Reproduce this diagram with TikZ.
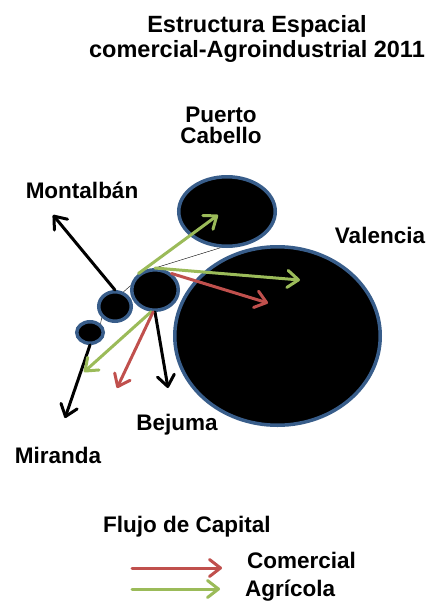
\documentclass[tikz,border=0pt]{standalone}
\usepackage{fontspec}
\setmainfont{Liberation Sans}
\usetikzlibrary{arrows.meta}
\usetikzlibrary{shapes.geometric}

\definecolor{rimblue}{RGB}{56,93,138}
\definecolor{flowred}{RGB}{192,80,77}
\definecolor{flowgreen}{RGB}{155,187,89}

\begin{document}
\begin{tikzpicture}[x=1pt,y=-1pt]
            \tikzstyle{city}=[draw=rimblue,fill=black,ellipse,line width=3.5pt,inner sep=0pt]
            \tikzstyle{place}=[font=\bfseries\fontsize{22.5}{21}\selectfont,anchor=base,align=center,inner sep=0pt]
            \tikzstyle{flow}=[line width=3pt,line cap=round,-{Straight Barb[length=11pt,width=17pt,round]}]
            \useasboundingbox (0,0) rectangle (431,608);

            % titulo
            \node[place,font=\bfseries\fontsize{23.5}{25}\selectfont] (title) at (257,57)
                {Estructura Espacial\\comercial-Agroindustrial 2011};

            % ciudades
            \node[city,minimum width=96.5pt,minimum height=69.5pt] (pc) at (227,211.5) {};
            \node[city,minimum width=205.5pt,minimum height=178.5pt] (val) at (277.5,336) {};
            \node[city,minimum width=46.5pt,minimum height=40.5pt] (bej) at (155,290) {};
            \node[city,minimum width=32.5pt,minimum height=29.5pt] (mon) at (115,306.5) {};
            \node[city,minimum width=26.5pt,minimum height=21.5pt] (mir) at (90,332.5) {};

            % nombres
            \node[place] (PC) at (221,143) {Puerto\\Cabello};
            \node[place] (VA) at (380,243) {Valencia};
            \node[place] (MO) at (82,198) {Montalbán};
            \node[place] (BE) at (177,430) {Bejuma};
            \node[place] (MI) at (58,463) {Miranda};

            % puntas de flechas
            \coordinate (tpc) at (218,215);
            \coordinate (tvg) at (300,280);
            \coordinate (tvr) at (268,303);
            \coordinate (tmo) at (53,215);
            \coordinate (tmi) at (65,418);
            \coordinate (tbg) at (84,372);
            \coordinate (tbr) at (117,388);
            \coordinate (tbe) at (168,388);

            \draw[thin]
                (bej.north) -- (pc.-100)
                (mon.60) -- (bej.170)
                (mir.40) -- (mon.220);

            \draw[flow,black] (mon.north) -- (tmo);
            \draw[flow,black] (mir.south) -- (tmi);
            \draw[flow,black] (bej.south) -- (tbe);
            \draw[flow,flowgreen] (bej.135) -- (tpc);
            \draw[flow,flowgreen] (bej.north) -- (tvg);
            \draw[flow,flowred] (bej.45) -- (tvr);
            \draw[flow,flowgreen] (bej.-100) -- (tbg);
            \draw[flow,flowred] (bej.-95) -- (tbr);

            % leyenda
            \node[place,anchor=base west] (flujo) at (103,532) {Flujo de Capital};
            \coordinate (lr0) at (132,568);
            \coordinate (lr1) at (222,568);
            \coordinate (lg0) at (132,589);
            \coordinate (lg1) at (220,589);
            \draw[flow,flowred] (lr0) -- (lr1);
            \draw[flow,flowgreen] (lg0) -- (lg1);
            \node[place,anchor=base west] (com) at (247,568) {Comercial};
            \node[place,anchor=base west] (agr) at (245,596) {Agrícola};
        \end{tikzpicture}
\end{document}
